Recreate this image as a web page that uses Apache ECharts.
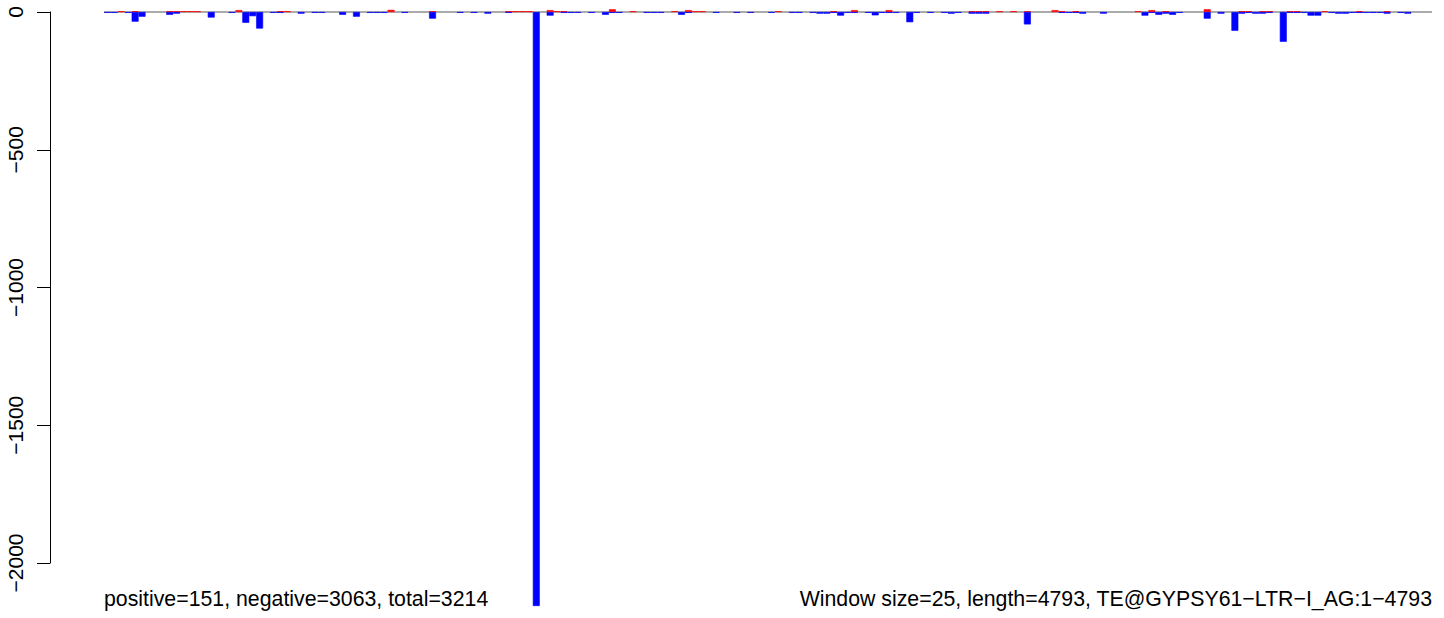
<!DOCTYPE html>
<html>
<head>
<meta charset="utf-8">
<script src="https://cdn.jsdelivr.net/npm/echarts@6/dist/echarts.min.js"></script>
<style>
html,body{margin:0;padding:0;background:#fff;}
#c{width:1444px;height:618px;}
</style>
</head>
<body>
<div id="c"></div>
<script>
// Window size 25 over length 4793 -> 192 windows
const windowSize = 25;
const seqLength = 4793;
const categories = [];
for (let s = 1; s <= seqLength; s += windowSize) categories.push(String(s));

const positive = [
  0,0,3,0,3,0,0,0,0,3,3,3,3,3,0,0,
  0,0,0,7,0,0,0,0,0,3,3,0,0,0,0,0,
  0,0,0,0,0,0,0,0,0,8,0,0,0,0,0,3,
  0,0,0,0,0,0,0,0,0,0,3,3,3,3,0,0,
  7,3,3,0,0,0,0,0,0,10,0,0,3,0,0,0,
  0,0,3,0,7,3,3,0,0,0,0,0,0,0,0,0,
  0,3,0,0,0,0,0,0,0,3,0,0,7,0,0,0,
  0,7,0,0,0,0,0,0,0,0,0,0,0,3,3,3,
  0,3,0,3,0,3,0,0,0,7,3,0,3,0,0,0,
  0,0,0,0,0,3,0,7,0,3,0,0,0,0,0,10,
  0,0,0,0,3,3,0,3,3,0,0,3,3,0,0,0,
  3,0,0,0,0,3,0,0,0,3,0,0,0,0,0,0
];
const negative = [
  -3,-3,0,-3,-35,-17,0,0,0,-10,-6,0,0,0,0,-20,
  0,0,-3,0,-39,-15,-60,0,-3,-3,0,0,-6,0,-3,-3,
  0,0,-10,0,-17,0,-3,-3,-3,0,0,-3,0,0,0,-24,
  0,0,0,-3,0,-3,0,-6,0,0,-3,0,0,0,-2156,0,
  -13,0,-3,-3,-3,0,-3,0,-10,-3,-3,0,0,0,-3,-3,
  -3,0,0,-10,-3,0,0,0,-3,0,0,-3,0,-3,0,0,
  -3,0,0,-3,-3,0,-3,-6,-6,-3,-13,-3,-3,0,-3,-12,
  -3,-3,-3,0,-37,-3,0,-3,0,-3,-6,-3,0,-6,-6,-6,
  0,0,0,0,0,-45,0,0,0,0,-3,-3,-3,-6,0,0,
  -6,0,0,0,0,0,-13,-3,-10,-6,-10,-3,0,0,0,-24,
  0,-6,0,-68,-6,-3,-6,-6,-3,0,-108,-3,-3,-3,-13,-13,
  0,-3,-6,-6,-3,-3,-3,-3,-3,-6,0,-3,-6,0,0,0
];
const yTicks = [0, -500, -1000, -1500, -2000];
const leftNote = 'positive=151, negative=3063, total=3214';
const rightNote = 'Window size=25, length=4793, TE@GYPSY61\u2212LTR\u2212I_AG:1\u22124793';

const FONT = '"Liberation Sans", Arial, Helvetica, sans-serif';
const dataMin = -2156, dataMax = 11;
// empty windows draw no bar at all
const noZero = arr => arr.map(v => (v === 0 ? '-' : v));

const chart = echarts.init(document.getElementById('c'), null, {renderer: 'svg'});
chart.setOption({
  animation: false,
  backgroundColor: '#ffffff',
  grid: [
    {left: 104, right: 12, top: 9, bottom: 12},
    {left: 50, width: 10, top: 12, bottom: 55}
  ],
  xAxis: [
    {gridIndex: 0, type: 'category', data: categories, show: false, boundaryGap: true},
    {gridIndex: 1, type: 'value', show: false}
  ],
  yAxis: [
    {gridIndex: 0, type: 'value', min: dataMin, max: dataMax, show: false, splitLine: {show: false}},
    {gridIndex: 1, type: 'value', min: yTicks[yTicks.length - 1], max: yTicks[0], interval: 500,
     axisLine: {show: true, lineStyle: {color: '#000', width: 1}},
     axisTick: {show: true, length: 13, lineStyle: {color: '#000', width: 1}},
     splitLine: {show: false},
     axisLabel: {rotate: 90, margin: 24, color: '#000', fontSize: 21, fontFamily: FONT,
       formatter: v => String(v).replace('-', '\u2212')}}
  ],
  series: [
    {type: 'line', xAxisIndex: 0, yAxisIndex: 0, data: [], z: 1, silent: true,
     markLine: {z: 1, silent: true, symbol: 'none', label: {show: false},
       lineStyle: {color: '#ababab', width: 2, type: 'solid'},
       data: [{yAxis: 0}]}},
    {type: 'bar', name: 'positive', xAxisIndex: 0, yAxisIndex: 0, data: noZero(positive), z: 10,
     barCategoryGap: '0%', barGap: '-100%',
     itemStyle: {color: '#ff0000', borderColor: '#ff0000', borderWidth: 0.6}},
    {type: 'bar', name: 'negative', xAxisIndex: 0, yAxisIndex: 0, data: noZero(negative), z: 10,
     barCategoryGap: '0%', barGap: '-100%',
     itemStyle: {color: '#0000ff', borderColor: '#0000ff', borderWidth: 0.6}}
  ],
  graphic: [
    {type: 'text', x: 104, y: 599, style: {text: leftNote, fill: '#000', font: '21.3px ' + FONT, align: 'left', verticalAlign: 'middle'}},
    {type: 'text', x: 1432, y: 599, style: {text: rightNote, fill: '#000', font: '21.3px ' + FONT, align: 'right', verticalAlign: 'middle'}}
  ]
});
</script>
</body>
</html>
